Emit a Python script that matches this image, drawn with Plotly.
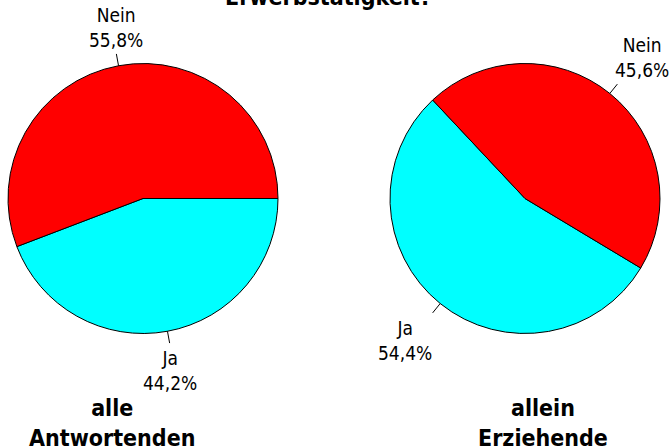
import math
import plotly.graph_objects as go

title = "Erwerbstätigkeit?"
labels = ["Ja", "Nein"]
values_alle = [44.2, 55.8]
values_allein = [54.4, 45.6]
groups = ["alle<br>Antwortenden", "allein<br>Erziehende"]
rotations = [90, 121]
colors = ["#00FFFF", "#FF0000"]

W, H = 670, 447
FONT = "DejaVu Sans Condensed, DejaVu Sans, sans-serif"

# pie geometry in pixels (center x, center y, radius)
geo = [(143, 198.5, 135), (525, 198.5, 135)]

fig = go.Figure()
annotations = []
shapes = []
for i, vals in enumerate([values_alle, values_allein]):
    cx, cy, r = geo[i]
    fig.add_trace(go.Pie(
        labels=labels, values=vals, sort=False, direction="clockwise",
        rotation=rotations[i], textinfo="none", hoverinfo="label+percent",
        marker=dict(colors=colors, line=dict(color="black", width=1)),
        domain=dict(x=[(cx - r) / W, (cx + r) / W], y=[1 - (cy + r) / H, 1 - (cy - r) / H]),
        showlegend=False,
    ))
    total = sum(vals)
    start = rotations[i]
    for lab, v in zip(labels, vals):
        span = v / total * 360
        mid = math.radians(start + span / 2)
        start += span
        sx, sy = math.sin(mid), -math.cos(mid)
        x0, y0 = cx + sx * r, cy + sy * r
        x1, y1 = cx + sx * (r + 12), cy + sy * (r + 12)
        shapes.append(dict(type="line", xref="paper", yref="paper",
                           x0=x0 / W, y0=1 - y0 / H, x1=x1 / W, y1=1 - y1 / H,
                           line=dict(color="black", width=1)))
        xa = "left" if sx > 0.5 else ("right" if sx < -0.5 else "center")
        ya = "bottom" if sy < 0 else "top"
        tx = x1 + (-4 if xa == "left" else (1 if xa == "right" else 0))
        ty = y1 + (-1 if ya == "bottom" else 2)
        txt = f"{lab}<br>{v:.1f}%".replace(".", ",")
        annotations.append(dict(x=tx / W, y=1 - ty / H, xref="paper", yref="paper",
                                text=txt, showarrow=False, xanchor=xa, yanchor=ya,
                                font=dict(family=FONT, size=19, color="#000000")))

# group captions
for i, g in enumerate(groups):
    gx = [112, 543][i]
    annotations.append(dict(x=gx / W, y=1 - 423 / H, xref="paper", yref="paper",
                            text=f"<b>{g}</b>", showarrow=False, xanchor="center", yanchor="middle",
                            font=dict(family=FONT, size=23, color="#000000")))

annotations.append(dict(x=328 / W, y=1 - 12 / H, xref="paper", yref="paper",
                        text=f"<b>{title}</b>", showarrow=False, xanchor="center", yanchor="bottom",
                        font=dict(family=FONT, size=23, color="#000000")))

fig.update_layout(width=W, height=H, margin=dict(l=0, r=0, t=0, b=0),
                  paper_bgcolor="white", plot_bgcolor="white",
                  annotations=annotations, shapes=shapes)
fig.write_html("out.html", config={"displayModeBar": False},
               post_script="document.body.style.margin='0';document.body.style.overflow='hidden';")
